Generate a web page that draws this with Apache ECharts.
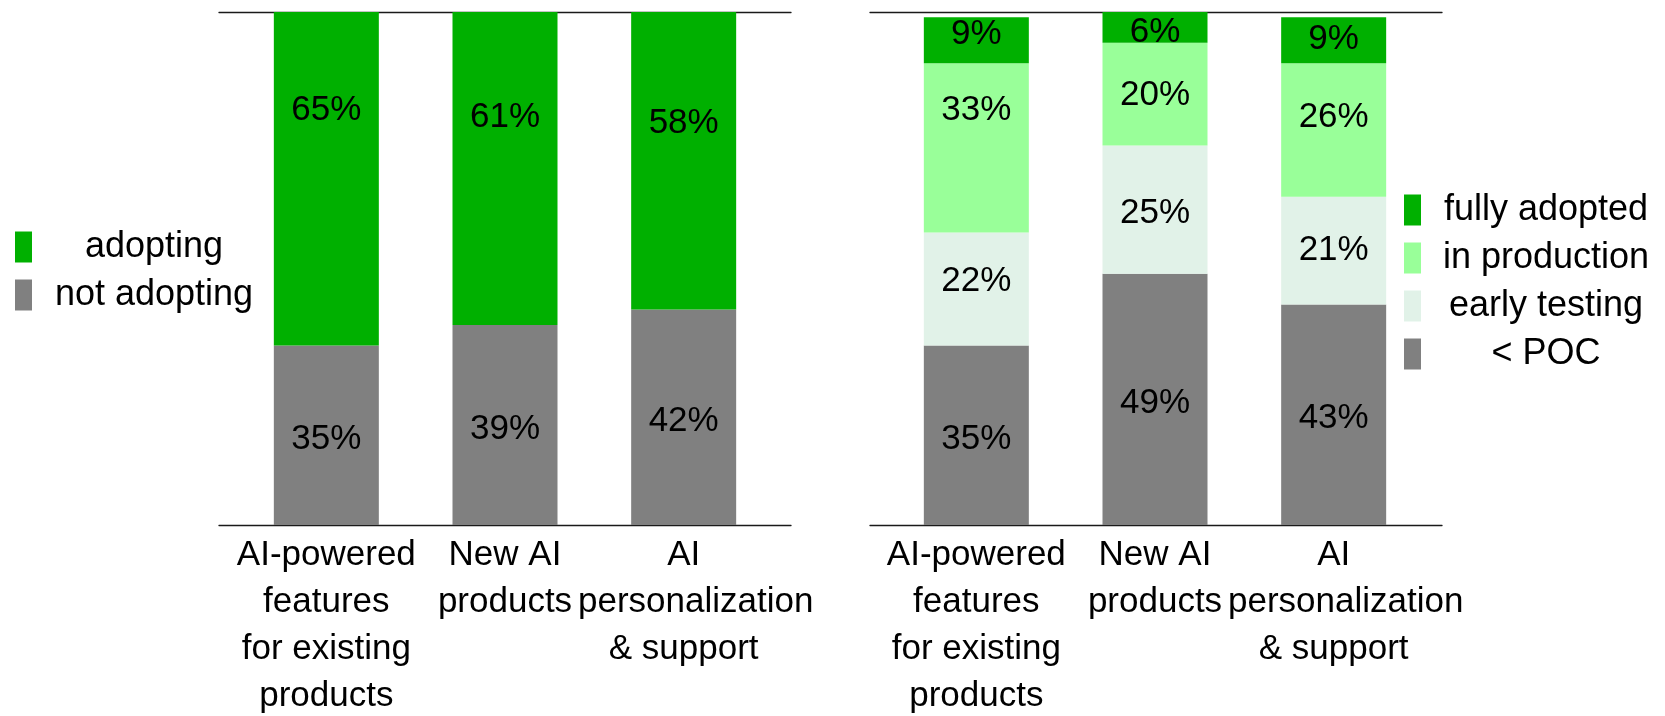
<!DOCTYPE html>
<html>
<head>
<meta charset="utf-8">
<title>AI adoption</title>
<script src="https://cdn.jsdelivr.net/npm/echarts@6/dist/echarts.min.js"></script>
<style>
  html, body { margin: 0; padding: 0; background: #fff; }
  #chart { width: 1665px; height: 716px; }
</style>
</head>
<body>
<div id="chart"></div>
<script>
// categories, same for both panels
const categories = ['AI-powered\nfeatures\nfor existing\nproducts', 'New AI\nproducts', 'AI\npersonalization\n& support'];

// left panel
const notAdopting = [35, 39, 42];
const adopting = [65, 61, 58];

// right panel
const belowPoc = [35, 49, 43];
const earlyTesting = [22, 25, 21];
const inProduction = [33, 20, 26];
const fullyAdopted = [9, 6, 9];

const FONT = 'Liberation Sans';
const GREEN = '#00b000';
const GREY = '#808080';

// how far (px) some value labels sit above the middle of their segment in the original
const labelLift = {
  'adopting': [72, 55, 41],
  'fully adopted': [10, -1, 5],
  'in production': [42, 3, 17],
  'early testing': [12, 0, 4]
};
const LABEL_DROP = 4; // text box vs glyph centre

function bars(name, data, color, stack, idx) {
  let lift = labelLift[name] || [0, 0, 0];
  return {
    name: name,
    type: 'bar',
    stack: stack,
    xAxisIndex: idx,
    yAxisIndex: idx,
    barWidth: 105,
    itemStyle: {color: color},
    emphasis: {disabled: true},
    label: {
      show: true,
      position: 'inside',
      formatter: '{c}%',
      fontFamily: FONT,
      fontSize: 35,
      color: '#000'
    },
    data: data.map((v, i) => ({value: v, label: {offset: [0, LABEL_DROP - lift[i]]}}))
  };
}

function catAxis(grid) {
  return {
    type: 'category',
    gridIndex: grid,
    data: categories,
    axisLine: {show: false},
    axisTick: {show: false},
    axisLabel: {
      interval: 0,
      margin: 7,
      color: '#000',
      // over-long lines start at the left of the text box and run over to the right
      formatter: v => v.split('\n').map(l => (l.length > 14 ? '{o|' : '{n|') + l + '}').join('\n'),
      rich: {
        n: {fontFamily: FONT, fontSize: 35, lineHeight: 47, color: '#000'},
        o: {fontFamily: FONT, fontSize: 35, lineHeight: 47, color: '#000', padding: [0, 0, 0, 24]}
      }
    }
  };
}

// plain frame lines (top and bottom) around each panel
function frameAxis(grid, pos) {
  return {
    type: 'value',
    gridIndex: grid,
    position: pos,
    min: 0,
    max: 1,
    axisLine: {show: true, lineStyle: {color: '#1a1a1a', width: 1.3}},
    axisTick: {show: false},
    axisLabel: {show: false},
    splitLine: {show: false}
  };
}

function hiddenY(grid) {
  return {
    type: 'value',
    gridIndex: grid,
    min: 0,
    max: 100,
    show: false,
    splitLine: {show: false}
  };
}

function legendBox(names, left, top, width) {
  return {
    data: names,
    orient: 'vertical',
    left: left,
    top: top,
    padding: 0,
    icon: 'rect',
    itemWidth: 17,
    itemHeight: 31,
    itemGap: 12,
    selectedMode: false,
    formatter: n => '{c|' + n + '}',
    textStyle: {
      rich: {
        c: {width: width, align: 'center', fontFamily: FONT, fontSize: 36, lineHeight: 31, color: '#000'}
      }
    }
  };
}

let chart = echarts.init(document.getElementById('chart'));
chart.setOption({
  backgroundColor: '#fff',
  animation: false,
  grid: [
    {left: 237, width: 536, top: 12, height: 513, outerBoundsMode: 'none'},
    {left: 887, width: 536, top: 12, height: 513, outerBoundsMode: 'none'},
    {left: 219, width: 572, top: 12, height: 513, outerBoundsMode: 'none'},
    {left: 870, width: 572, top: 12, height: 513, outerBoundsMode: 'none'}
  ],
  xAxis: [
    catAxis(0),
    catAxis(1),
    frameAxis(2, 'bottom'),
    frameAxis(2, 'top'),
    frameAxis(3, 'bottom'),
    frameAxis(3, 'top')
  ],
  yAxis: [hiddenY(0), hiddenY(1), hiddenY(2), hiddenY(3)],
  legend: [
    legendBox(['adopting', 'not adopting'], 15, 229, 234),
    legendBox(['fully adopted', 'in production', 'early testing', '< POC'], 1404, 192, 240)
  ],
  series: [
    bars('not adopting', notAdopting, GREY, 'left', 0),
    bars('adopting', adopting, GREEN, 'left', 0),
    bars('< POC', belowPoc, GREY, 'right', 1),
    bars('early testing', earlyTesting, '#e1f2e8', 'right', 1),
    bars('in production', inProduction, '#99ff99', 'right', 1),
    bars('fully adopted', fullyAdopted, GREEN, 'right', 1)
  ]
});
</script>
</body>
</html>
